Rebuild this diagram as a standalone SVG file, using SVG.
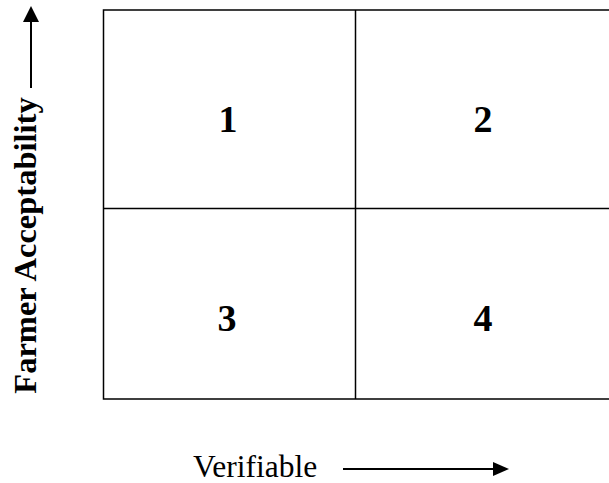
<svg xmlns="http://www.w3.org/2000/svg" width="609" height="483" viewBox="0 0 609 483">
<style>
.grid{stroke:#000;stroke-width:1.5;fill:none}
.num{font-family:"Liberation Serif",serif;font-weight:bold;font-size:38px;text-anchor:middle;fill:#000}
.axis{font-family:"Liberation Serif",serif;fill:#000}
.arr{stroke:#000;stroke-width:2;fill:none}
</style>
<rect width="609" height="483" fill="#fff"/>
<g id="grid">
<path class="grid" d="M611 10 H103.5 V399 H611 M355.5 10 V399 M103.5 208.5 H611"/>
</g>
<g id="q1"><text class="num" x="228" y="132">1</text></g>
<g id="q2"><text class="num" x="483" y="132">2</text></g>
<g id="q3"><text class="num" x="227" y="331">3</text></g>
<g id="q4"><text class="num" x="483" y="331">4</text></g>
<g id="connectors">
<line class="arr" x1="31" y1="20" x2="31" y2="88"/>
<polygon points="31,6 23,22 39,22" fill="#000"/>
<line class="arr" x1="343" y1="469" x2="495" y2="469"/>
<polygon points="509,469 493,462 493,476" fill="#000"/>
</g>
<g id="ylabel"><text class="axis" transform="translate(36,245.5) rotate(-90)" text-anchor="middle" font-weight="bold" font-size="32.5">Farmer Acceptability</text></g>
<g id="xlabel"><text class="axis" x="193" y="477" font-size="31.5">Verifiable</text></g>
</svg>
